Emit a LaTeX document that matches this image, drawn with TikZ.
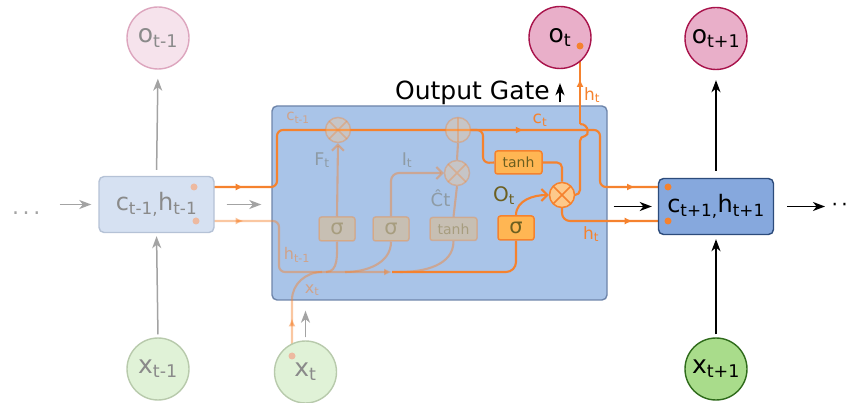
\documentclass[tikz,border=0pt]{standalone}
\usepackage{fontspec}
\setmainfont{DejaVu Sans}
\usetikzlibrary{arrows.meta,decorations.markings}
\pgfdeclarelayer{bg}
\pgfdeclarelayer{lines}
\pgfsetlayers{bg,lines,main}

\definecolor{orng}{HTML}{F5822E}
\definecolor{orngfill}{HTML}{FFB653}
\definecolor{oplite}{HTML}{FDC98B}
\definecolor{olivetx}{HTML}{6C5F20}
\definecolor{cellfill}{HTML}{A9C4E8}
\definecolor{celldraw}{HTML}{6E85AA}
\definecolor{nextfill}{HTML}{86A8DD}
\definecolor{nextdraw}{HTML}{2C4B7B}
\definecolor{prevfill}{HTML}{D6E1F2}
\definecolor{prevdraw}{HTML}{B5C2D6}
\definecolor{outfill}{HTML}{E9AFC9}
\definecolor{outdraw}{HTML}{A8134B}
\definecolor{oprevfill}{HTML}{F6E3EC}
\definecolor{oprevdraw}{HTML}{DDA6BE}
\definecolor{infill}{HTML}{A9DC8B}
\definecolor{indraw}{HTML}{2F6B1B}
\definecolor{iprevfill}{HTML}{E0F2D7}
\definecolor{iprevdraw}{HTML}{B8CAAC}
\definecolor{fadetx}{HTML}{8A8A8A}
\definecolor{arrgray}{HTML}{A3A3A3}
\definecolor{gatetx}{HTML}{8E9BA5}
\definecolor{dotfade}{HTML}{EDB9A0}

\newcommand{\fsz}[1]{\fontsize{#1}{#1}\selectfont}

\begin{document}
\begin{tikzpicture}[x=1pt,y=-1pt,
    state/.style={circle,draw,line width=1.4pt,minimum size=62pt,inner sep=0pt,font=\fsz{25}},
    hidbox/.style={draw,rounded corners=5pt,line width=1.4pt,minimum width=115pt,minimum height=56pt,inner sep=0pt,font=\fsz{24}},
    gatebox/.style={draw=orng,fill=orngfill,rounded corners=2.5pt,line width=1.5pt,minimum width=36pt,minimum height=24pt,inner sep=0pt,text=olivetx,font=\fsz{21}},
    tanhbox/.style={gatebox,minimum width=47pt,minimum height=23pt,font=\fsz{14}},
    opbase/.style={circle,draw=orng,fill=oplite,line width=1.5pt,minimum size=25pt,inner sep=0pt},
    mulop/.style={opbase,path picture={\draw[orng,line width=1.5pt]
        (path picture bounding box.north west) -- (path picture bounding box.south east)
        (path picture bounding box.north east) -- (path picture bounding box.south west);}},
    addop/.style={opbase,path picture={\draw[orng,line width=1.5pt]
        (path picture bounding box.north) -- (path picture bounding box.south);}},
    faded/.style={opacity=0.35},
    oline/.style={draw=orng,line width=2.1pt},
    fline/.style={oline,opacity=0.45},
    blkarr/.style={-{Stealth[length=12pt,width=9pt,inset=3.5pt]},line width=1.5pt},
    gryarr/.style={blkarr,draw=arrgray,fill=arrgray},
    barb/.style={-{Straight Barb[length=6pt,width=12pt]}},
    midarr/.style={postaction={decorate,decoration={markings,
        mark=at position #1 with {\arrow{Latex[length=8pt,width=7pt]}}}}},
    cdot/.style={circle,fill=orng,minimum size=7pt,inner sep=0pt}]

\useasboundingbox (0,0) rectangle (849,403);

% previous step, faded
\node[font=\fsz{22},text=arrgray,anchor=base west] (ldots) at (8.5,215) {.\,.\,.};
\node[hidbox,fill=prevfill,draw=prevdraw,text=fadetx] (cprev) at (156.5,204.5) {c\textsubscript{t-1,}h\textsubscript{t-1}};
\node[state,fill=oprevfill,draw=oprevdraw,text=fadetx] (oprev) at (158,38) {o\textsubscript{t-1}};
\node[state,fill=iprevfill,draw=iprevdraw,text=fadetx] (xprev) at (158,369) {x\textsubscript{t-1}};
\node[state,fill=iprevfill,draw=iprevdraw,text=fadetx] (xcur) at (305.5,372) {x\textsubscript{t}};

% the cell
\begin{pgfonlayer}{bg}
  \node[draw=celldraw,fill=cellfill,line width=1.4pt,rounded corners=5pt,minimum width=335pt,minimum height=194pt] (cell) at (439.5,203) {};
\end{pgfonlayer}
\node[font=\fsz{25},anchor=base] (outlbl) at (472.5,100) {Output Gate};

% next step
\node[state,fill=outfill,draw=outdraw] (ot) at (560,37.5) {o\textsubscript{t}};
\node[state,fill=outfill,draw=outdraw] (onext) at (716,38.5) {o\textsubscript{t+1}};
\node[hidbox,fill=nextfill,draw=nextdraw] (cnext) at (716,206.5) {c\textsubscript{t+1,}h\textsubscript{t+1}};
\node[state,fill=infill,draw=indraw] (xnext) at (716,369) {x\textsubscript{t+1}};
\node[font=\fsz{20},anchor=base west] (rdots) at (828,212) {·\hspace{3.5pt}·};

% gates
\node[mulop,faded] (fgate) at (338,130) {};
\node[addop,faded] (plus) at (458,130) {};
\node[mulop,faded] (igate) at (457,173) {};
\node[mulop] (ogate) at (562,195) {};
\node[gatebox,faded] (sig1) at (337,229) {σ};
\node[gatebox,faded] (sig2) at (391,229) {σ};
\node[tanhbox,faded] (tanh1) at (453.5,229) {tanh};
\node[gatebox] (sig3) at (516,228) {σ};
\node[tanhbox] (tanh2) at (518.5,162.5) {tanh};

% dots
\node[cdot,fill=dotfade] (cdotp) at (194,187) {};
\node[cdot,fill=dotfade] (hdotp) at (196,221) {};
\node[cdot,fill=dotfade] (xdot) at (292,356) {};
\node[cdot] (cdotn) at (668,187) {};
\node[cdot] (hdotn) at (668,221) {};
\node[cdot] (otdot) at (580,46) {};

% labels
\node[font=\fsz{15},text=orng,opacity=0.5] (cprevlbl) at (298,118) {c\textsubscript{t-1}};
\node[font=\fsz{17.5},text=gatetx] (flbl) at (322,160) {F\textsubscript{t}};
\node[font=\fsz{17.5},text=gatetx] (ilbl) at (407,160) {I\textsubscript{t}};
\node[font=\fsz{18},text=gatetx] (chatlbl) at (440.5,198) {Ĉt};
\node[font=\fsz{20},text=olivetx] (olbl) at (504,196) {O\textsubscript{t}};
\node[font=\fsz{17},text=orng] (ctlbl) at (540,120) {c\textsubscript{t}};
\node[font=\fsz{17},text=orng] (htlbl) at (592,95) {h\textsubscript{t}};
\node[font=\fsz{17},text=orng] (hbotlbl) at (591,234) {h\textsubscript{t}};
\node[font=\fsz{16},text=orng,opacity=0.5] (hprevlbl) at (297,255) {h\textsubscript{t-1}};
\node[font=\fsz{16},text=orng,opacity=0.5] (xtlbl) at (312,290) {x\textsubscript{t}};

% grey and black arrows
\draw[gryarr,shorten <=16pt,shorten >=7pt] (ldots.east |- cprev) -- (cprev.west);
\draw[gryarr,shorten <=6pt,shorten >=9pt] (cprev.north) -- (oprev.south);
\draw[gryarr,shorten <=3pt,shorten >=3pt] (xprev.north) -- (cprev.south);
\draw[gryarr,shorten <=12pt,shorten >=10pt] (cprev.east) -- (cell.west |- cprev);
\draw[gryarr,shorten <=3pt,shorten >=10pt] (xcur.north) -- (xcur.north |- cell.south);
\draw[blkarr,shorten <=3pt,shorten >=14pt] (cell.north -| ot) -- (ot.south);
\draw[blkarr,shorten <=6pt,shorten >=6pt] (cell.east |- cnext) -- (cnext.west);
\draw[blkarr,shorten <=13pt,shorten >=3pt] (cnext.east) -- (cnext.east -| rdots.west);
\draw[blkarr,shorten <=7pt,shorten >=10pt] (cnext.north) -- (onext.south);
\draw[blkarr,shorten <=3pt,shorten >=4pt] (xnext.north) -- (cnext.south);

% orange flow
\coordinate (cbendA) at (277,187);
\coordinate (cbendB) at (277,130);
\coordinate (cbendC) at (600,130);
\coordinate (cbendD) at (600,187);
\coordinate (hbendA) at (279,221);
\coordinate (hbendB) at (279,272);
\coordinate (hmid) at (392,272);
\coordinate (hbendC) at (516,272);
\coordinate (jA) at (326,272);
\coordinate (jB) at (345,272);
\coordinate (jC) at (400,272);
\coordinate (xup) at (292,300);
\coordinate (jX) at (322,272);
\coordinate (plusbr) at (483,130);
\coordinate (plusdn) at (483,163);
\coordinate (hturn) at (580,195);
\coordinate (hopa) at (580,136);
\coordinate (hopb) at (580,124);
\begin{pgfonlayer}{lines}
  \draw[oline,rounded corners=6pt,midarr=46pt,midarr=378pt,midarr=541pt]
    (cdotp) -- (cbendA) -- (cbendB) -- (cbendC) -- (cbendD) -- (cdotn);
  \draw[fline,rounded corners=6pt,midarr=44pt,-{Latex[length=8pt,width=7pt]}]
    (hdotp) -- (hbendA) -- (hbendB) -- (hmid);
  \draw[oline,rounded corners=10pt] (hmid) -- (hbendC) -- (sig3.south);
  \draw[fline] (sig1.south) to[out=-90,in=0] (jA);
  \draw[fline] (sig2.south) to[out=-90,in=0] (jB);
  \draw[fline] (tanh1.south) to[out=-90,in=0] (jC);
  \draw[fline,midarr=34pt] (xdot) -- (xup) to[out=90,in=180] (jX);
  \draw[fline,barb] (sig1.north) -- (fgate.south);
  \draw[fline,barb,rounded corners=8pt] (sig2.north) |- (igate.west);
  \draw[fline] (tanh1.north) -- (igate.south);
  \draw[fline] (igate.north) -- (plus.south);
  \draw[oline,rounded corners=6pt] (plus.east) -- (plusbr) -- (plusdn) -- (tanh2.west);
  \draw[oline,rounded corners=5pt] (tanh2.east) -| (ogate.north);
  \draw[oline,barb] (sig3.north) to[out=90,in=180] (ogate.west);
  \draw[oline,rounded corners=8pt,midarr=80pt] (ogate.south) |- (hdotn);
  \draw[oline,rounded corners=5pt] (ogate.east) -- (hturn) -- (hopa) to[out=0,in=0,looseness=2] (hopb);
  \draw[oline,midarr=45pt] (hopb) -- (otdot);
\end{pgfonlayer}
\end{tikzpicture}
\end{document}
